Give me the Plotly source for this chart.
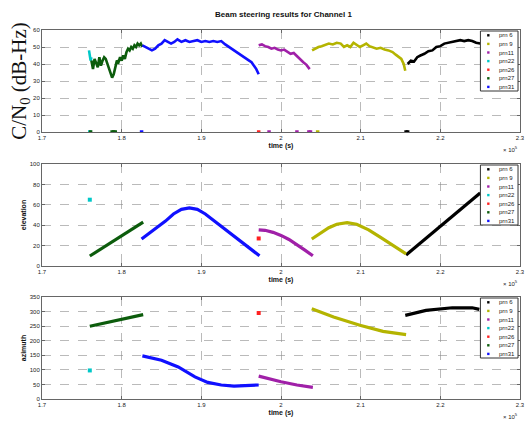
import plotly.graph_objects as go

# ---------------- data ----------------
prn_names = ["prn 6", "prn 9", "prn11", "prn22", "prn26", "prn27", "prn31"]
prn_colors = ["#000000", "#b4b400", "#a020a8", "#00c8c8", "#ff2020", "#0c5c0c", "#1010ff"]

x_ticks = [1.7, 1.8, 1.9, 2.0, 2.1, 2.2, 2.3]

# C/N0 (dB-Hz)
t6_cn = [2.159, 2.163, 2.167, 2.171, 2.175, 2.180, 2.185, 2.190, 2.195, 2.200, 2.205, 2.210,
         2.215, 2.220, 2.225, 2.230, 2.235, 2.240, 2.245, 2.250]
cn6 = [40, 42, 41.5, 44, 45, 46, 47.5, 48, 50, 50.5, 52, 52.5, 53, 53.5, 54, 53.5, 54, 53.5, 52.5, 52]

t9_cn = [2.039, 2.043, 2.047, 2.051, 2.055, 2.060, 2.065, 2.070, 2.075, 2.079, 2.083, 2.087,
         2.091, 2.095, 2.099, 2.103, 2.107, 2.111, 2.115, 2.120, 2.125, 2.130, 2.135, 2.140,
         2.144, 2.148, 2.151, 2.154, 2.156]
cn9 = [48, 49, 50, 50.5, 51, 52, 51.5, 52.5, 52, 50, 51, 50, 52.5, 51.5, 50, 51, 52, 50.5,
       50, 49, 49.5, 48.5, 48, 47, 45.5, 44, 43, 40, 36]

t11_cn = [1.972, 1.976, 1.980, 1.984, 1.988, 1.992, 1.996, 2.000, 2.004, 2.008, 2.012, 2.016,
          2.020, 2.024, 2.028, 2.032, 2.036]
cn11 = [51, 51.5, 50.5, 50, 49, 49.5, 48.5, 48, 48.5, 47, 46, 46.5, 44.5, 43, 41, 39.5, 37]

t22_cn = [1.759, 1.760, 1.761, 1.762]
cn22 = [48, 45, 42, 44]

t27_cn = [1.762, 1.764, 1.766, 1.768, 1.770, 1.772, 1.774, 1.776, 1.778, 1.780, 1.782, 1.784,
          1.786, 1.788, 1.790, 1.792, 1.794, 1.796, 1.798, 1.800, 1.802, 1.804, 1.806, 1.808,
          1.810, 1.812, 1.814, 1.816, 1.818, 1.820, 1.822, 1.824, 1.826]
cn27 = [42, 37, 43, 40, 38, 44, 39, 42, 44, 43, 40, 38, 35, 32, 34, 39, 42, 41, 44, 42, 45,
        43, 47, 49, 48, 50, 49, 51, 50, 52, 51, 52, 50]

t31_cn = [1.826, 1.830, 1.834, 1.838, 1.842, 1.846, 1.850, 1.854, 1.858, 1.862, 1.866, 1.870,
          1.875, 1.880, 1.885, 1.890, 1.895, 1.900, 1.905, 1.910, 1.915, 1.920, 1.925, 1.930,
          1.935, 1.940, 1.945, 1.950, 1.955, 1.960, 1.963, 1.966, 1.969, 1.972]
cn31 = [51, 50, 49, 48, 49, 51, 52, 54, 53, 52, 53, 54.5, 53, 54, 53, 53.5, 54, 53, 53.5, 53,
        53.5, 53, 53.5, 51.5, 50, 48.5, 47, 45.5, 44, 42, 41, 39, 37, 34]

# dropouts (C/N0 = 0)
t_zero = {"prn 6": [2.157, 2.159], "prn 9": [2.046], "prn11": [1.985, 2.020, 2.035, 2.037],
          "prn22": [1.760], "prn26": [1.972], "prn27": [1.761, 1.788, 1.790, 1.792],
          "prn31": [1.825]}

# elevation (deg)
t6_el = [2.157, 2.200, 2.250]
el6 = [10.8, 38.6, 71.5]
t9_el = [2.0386, 2.05, 2.06, 2.07, 2.083, 2.095, 2.11, 2.125, 2.14, 2.157]
el9 = [26.5, 32.5, 37.5, 41, 42.5, 41, 35.5, 28, 20.5, 11.8]
t11_el = [1.972, 1.98, 1.99, 2.0, 2.01, 2.02, 2.03, 2.04]
el11 = [35.5, 35, 33, 30, 26, 21, 15.5, 10]
t22_el = [1.760]
el22 = [65]
t26_el = [1.972]
el26 = [27]
t27_el = [1.760, 1.827]
el27 = [9.8, 43]
t31_el = [1.825, 1.84, 1.855, 1.865, 1.875, 1.885, 1.895, 1.905, 1.92, 1.94, 1.96, 1.973]
el31 = [26.5, 35, 44, 51, 55.5, 57, 55.5, 51, 42, 30, 17.5, 10]

# azimuth (deg)
t6_az = [2.156, 2.182, 2.215, 2.240, 2.249]
az6 = [287, 304, 313, 313, 307.5]
t9_az = [2.0386, 2.066, 2.099, 2.128, 2.157]
az9 = [310, 281, 253, 232, 221]
t11_az = [1.972, 1.9826, 2.0, 2.02, 2.04]
az11 = [78.6, 70.6, 59, 48, 40]
t22_az = [1.760]
az22 = [98]
t26_az = [1.972]
az26 = [295]
t27_az = [1.760, 1.827]
az27 = [249.5, 289.5]
t31_az = [1.826, 1.85, 1.871, 1.892, 1.908, 1.925, 1.941, 1.958, 1.972]
az31 = [148, 133, 110, 76, 57, 48, 44.5, 45.5, 48]

cn_data = {"prn 6": (t6_cn, cn6), "prn 9": (t9_cn, cn9), "prn11": (t11_cn, cn11),
           "prn22": (t22_cn, cn22), "prn27": (t27_cn, cn27), "prn31": (t31_cn, cn31)}
el_data = {"prn 6": (t6_el, el6), "prn 9": (t9_el, el9), "prn11": (t11_el, el11),
           "prn22": (t22_el, el22), "prn26": (t26_el, el26), "prn27": (t27_el, el27),
           "prn31": (t31_el, el31)}
az_data = {"prn 6": (t6_az, az6), "prn 9": (t9_az, az9), "prn11": (t11_az, az11),
           "prn22": (t22_az, az22), "prn26": (t26_az, az26), "prn27": (t27_az, az27),
           "prn31": (t31_az, az31)}

# ---------------- figure ----------------
fig = go.Figure()
color_of = dict(zip(prn_names, prn_colors))

def add_series(data, xa, ya, width):
    for name in prn_names:
        if name not in data:
            continue
        t, v = data[name]
        if len(t) == 1:
            fig.add_trace(go.Scatter(x=t, y=v, mode="markers", xaxis=xa, yaxis=ya,
                                     marker=dict(color=color_of[name], size=4, symbol="square"),
                                     showlegend=False, name=name))
        else:
            fig.add_trace(go.Scatter(x=t, y=v, mode="lines", xaxis=xa, yaxis=ya,
                                     line=dict(color=color_of[name], width=width),
                                     showlegend=False, name=name))

add_series(cn_data, "x", "y", 2.6)
for name in prn_names:
    tz = t_zero[name]
    fig.add_trace(go.Scatter(x=tz, y=[0] * len(tz), mode="markers", xaxis="x", yaxis="y",
                             marker=dict(color=color_of[name], size=3.5, symbol="square"),
                             showlegend=False, name=name))
add_series(el_data, "x2", "y2", 3.2)
add_series(az_data, "x3", "y3", 3.2)

L, R, T, B = 42, 6, 30, 24
W, H = 531, 423
pw = W - L - R
ph = H - T - B
def dom(top_px, bot_px):
    return [(H - B - bot_px) / ph, (H - B - top_px) / ph]

grid = "rgba(140,140,140,0.6)"
tickfont = dict(family="Liberation Sans, Arial", size=6, color="#222")
lab = dict(family="Liberation Sans, Arial", size=7, color="#111")
axcommon = dict(showline=True, linecolor="#666", linewidth=1, mirror="ticks",
                ticks="inside", ticklen=3, tickcolor="#666", tickfont=tickfont,
                showgrid=True, gridcolor=grid, griddash="dash", gridwidth=0.8,
                zeroline=False)

xcommon = dict(axcommon, range=[1.7, 2.3], tickvals=x_ticks,
               ticktext=[f"{v:g}" for v in x_ticks],
               title=dict(text="<b>time (s)</b>", font=lab, standoff=2))

fig.update_layout(
    width=W, height=H,
    margin=dict(l=L, r=R, t=T, b=B),
    paper_bgcolor="white", plot_bgcolor="white",
    showlegend=False,
    title=dict(text="<b>Beam steering results for Channel 1</b>", x=(L + pw / 2) / W,
               xanchor="center", y=1 - 14 / H, yanchor="middle",
               font=dict(family="Liberation Sans, Arial", size=8, color="#111")),
    xaxis=dict(xcommon, anchor="y"),
    xaxis2=dict(xcommon, anchor="y2"),
    xaxis3=dict(xcommon, anchor="y3"),
    yaxis=dict(axcommon, anchor="x", domain=dom(30, 132), range=[0, 60], dtick=10,
               title=dict(text="C/N<sub>0</sub> (dB-Hz)", standoff=0,
                          font=dict(family="Liberation Serif, Times New Roman", size=21,
                                    color="#111"))),
    yaxis2=dict(axcommon, anchor="x2", domain=dom(164, 266), range=[0, 100], dtick=20,
                title=dict(text="<b>elevation</b>", font=lab, standoff=2)),
    yaxis3=dict(axcommon, anchor="x3", domain=dom(297, 399), range=[0, 350], dtick=50,
                title=dict(text="<b>azimuth</b>", font=lab, standoff=2)),
)

anns = []
shapes = []
panels = [("x", "y", 132, 30), ("x2", "y2", 266, 164), ("x3", "y3", 399, 297)]
for xa, ya, bot, top in panels:
    hgt = bot - top
    anns.append(dict(text="× 10<sup>5</sup>", xref="paper", yref="paper", x=1.0,
                     y=(H - B - (bot + 17)) / ph, xanchor="right", yanchor="middle",
                     showarrow=False, font=dict(family="Liberation Sans, Arial", size=6, color="#222")))
    xd = xa + " domain"
    yd = ya + " domain"
    x0 = (485 - L) / pw
    x1 = (523 - L) / pw
    shapes.append(dict(type="rect", xref=xd, yref=yd, x0=x0, x1=x1,
                       y0=1 - 61 / hgt, y1=1 - 1 / hgt,
                       line=dict(color="#333", width=1), fillcolor="white", layer="above"))
    for i, name in enumerate(prn_names):
        yy = 1 - (5.3 + 8.6 * i) / hgt
        cx = (493 - L) / pw
        shapes.append(dict(type="rect", xref=xd, yref=yd,
                           x0=cx - 1.2 / pw, x1=cx + 1.2 / pw,
                           y0=yy - 1.2 / hgt, y1=yy + 1.2 / hgt,
                           line=dict(width=0), fillcolor=color_of[name], layer="above"))
        anns.append(dict(text=name, xref=xd, yref=yd, x=(502 - L) / pw, y=yy,
                         xanchor="left", yanchor="middle", showarrow=False,
                         font=dict(family="Liberation Sans, Arial", size=6, color="#222")))

fig.update_layout(annotations=anns, shapes=shapes)
fig.write_html("out.html")
